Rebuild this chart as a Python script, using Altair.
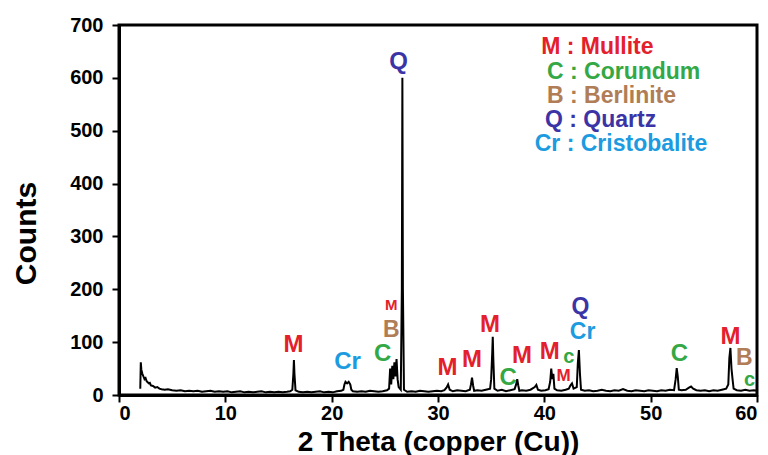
import altair as alt
import pandas as pd

# XRD pattern (2 theta, counts)
two_theta = [
    2.0, 2.05, 2.1, 2.2, 2.3, 2.4, 2.5, 2.6, 2.7, 2.8, 2.9, 3.0, 3.2, 3.4, 3.6, 3.8, 4.0, 4.3, 4.6, 5.0,
    5.4, 5.8, 6.2, 6.6, 7.0, 7.4, 7.8, 8.2, 8.6, 9.0, 9.4, 9.8, 10.2, 10.6, 11.0, 11.4, 11.8, 12.2,
    12.6, 13.0, 13.4, 13.8, 14.2, 14.6, 15.0, 15.4, 15.8, 16.1,
    16.3, 16.4, 16.45, 16.5, 16.6,
    16.9, 17.3, 17.7, 18.1, 18.5, 18.9, 19.3, 19.7, 20.1, 20.5, 20.9,
    21.1, 21.2, 21.3, 21.45, 21.6, 21.75, 21.85, 22.0,
    22.4, 22.8, 23.2, 23.6, 24.0, 24.4, 24.8, 25.2,
    25.4, 25.5, 25.6, 25.7, 25.8, 25.9, 26.0, 26.1, 26.2, 26.3,
    26.5, 26.6, 26.65, 26.7, 26.8,
    27.1, 27.5, 27.9, 28.3, 28.7, 29.1, 29.5, 29.9, 30.3, 30.6,
    30.8, 30.95, 31.1,
    31.4, 31.8, 32.2, 32.6, 33.0,
    33.1, 33.2, 33.3, 33.4,
    33.7, 34.1, 34.5, 34.9,
    35.0, 35.1, 35.15, 35.2, 35.3,
    35.6, 36.0, 36.4, 36.8, 37.2,
    37.35, 37.45, 37.55, 37.65,
    37.9, 38.3, 38.7,
    39.1, 39.25, 39.4,
    39.7, 40.1, 40.4,
    40.55, 40.65, 40.75, 40.85, 40.95,
    41.2, 41.6, 42.0, 42.3,
    42.45, 42.6, 42.75,
    43.05, 43.15, 43.25, 43.35, 43.45,
    43.8, 44.2, 44.6, 45.0, 45.4, 45.8, 46.2, 46.6, 47.0, 47.4, 47.8, 48.2, 48.6, 49.0, 49.4,
    49.8, 50.2, 50.6, 51.0, 51.4, 51.8, 52.2,
    52.35, 52.45, 52.55, 52.65,
    52.9, 53.3, 53.6, 53.8, 54.0, 54.3, 54.7, 55.1, 55.5, 55.9, 56.3, 56.7, 57.1,
    57.3, 57.4, 57.5, 57.6, 57.7, 57.8,
    58.1, 58.5, 58.9, 59.3, 59.7, 60.0,
]
counts = [
    12, 62, 48, 40, 35, 30, 32, 26, 24, 22, 23, 18, 17, 14, 15, 12, 11, 10, 11, 9,
    8, 9, 7, 8, 7, 8, 6, 7, 8, 6, 7, 6, 7, 5, 6, 7, 5, 6,
    5, 6, 7, 5, 6, 5, 6, 5, 6, 7,
    10, 40, 66, 40, 9,
    6, 5, 6, 5, 6, 7, 5, 6, 5, 7, 8,
    10, 20, 25, 22, 25, 20, 10, 7,
    6, 7, 6, 8, 7, 6, 7, 9,
    12, 50, 20, 55, 30, 62, 35, 68, 30, 15,
    10, 200, 600, 200, 10,
    6, 7, 6, 8, 7, 6, 7, 8, 7, 9,
    14, 20, 10,
    7, 9, 8, 7, 10,
    20, 33, 18, 8,
    9, 8, 10, 12,
    30, 80, 110, 70, 12,
    8, 10, 7, 9, 11,
    20, 30, 18, 8,
    9, 8, 10,
    15, 19, 10,
    8, 9, 11,
    25, 50, 30, 40, 12,
    9, 8, 10, 12,
    18, 22, 12,
    15, 60, 85, 40, 10,
    8, 9, 7, 8, 10, 8, 7, 9, 8, 11, 8, 7, 9, 8, 7,
    9, 8, 7, 9, 8, 10, 9,
    30, 51, 35, 10,
    9, 10, 14, 16, 12, 9, 8, 9, 7, 9, 8, 10, 12,
    20, 70, 89, 50, 30, 12,
    9, 8, 10, 8, 9, 8,
]

# peak annotations
RED, GREEN, BROWN, NAVY, SKY = "#e3202b", "#33a845", "#b07d56", "#3b34a6", "#1c9be0"
ann_text = ["M", "Cr", "C", "B", "M", "Q", "M", "M", "M", "C", "M", "M", "c", "M",
            "Q", "Cr", "C", "M", "B", "c"]
ann_x = [16.4, 21.5, 24.8, 25.6, 25.6, 26.3, 30.9, 33.2, 34.9, 36.6, 37.9, 40.5, 42.3, 41.8,
         43.4, 43.6, 52.7, 57.5, 58.8, 59.3]
ann_y = [95, 62, 78, 123, 170, 630, 51, 66, 132, 32, 74, 81, 72, 36,
         167, 119, 78, 110, 70, 28]
ann_color = [RED, SKY, GREEN, BROWN, RED, NAVY, RED, RED, RED, GREEN, RED, RED, GREEN, RED,
             NAVY, SKY, GREEN, RED, BROWN, GREEN]
ann_size = [24, 24, 24, 23, 15, 24, 24, 24, 24, 24, 24, 24, 20, 17,
            23, 23, 24, 24, 23, 20]

# phase key
key_text = ["M : Mullite", "C : Corundum", "B : Berlinite", "Q : Quartz", "Cr : Cristobalite"]
key_x = [39.7, 40.25, 40.25, 40.06, 39.1]
key_y = [658, 612, 566, 520, 474]
key_color = [RED, GREEN, BROWN, NAVY, SKY]

FONT = "Liberation Sans"

pattern = pd.DataFrame({"x": two_theta, "y": counts})
ann = pd.DataFrame({"t": ann_text, "x": ann_x, "y": ann_y, "c": ann_color, "s": ann_size})
key = pd.DataFrame({"t": key_text, "x": key_x, "y": key_y, "c": key_color})

xs = alt.Scale(domain=[0, 60], nice=False)
ys = alt.Scale(domain=[0, 700], nice=False)

line = alt.Chart(pattern).mark_line(color="black", strokeWidth=2, clip=True).encode(
    x=alt.X("x:Q", scale=xs, title="2 Theta (copper (Cu))",
            axis=alt.Axis(values=[0, 10, 20, 30, 40, 50, 60], format="d",
                          titleY=47, titleX=319, titleBaseline="middle")),
    y=alt.Y("y:Q", scale=ys, title="Counts",
            axis=alt.Axis(values=[0, 100, 200, 300, 400, 500, 600, 700], format="d",
                          titleX=-93, titleY=208, titleAngle=-90, titleBaseline="middle",
                          titleAlign="center")),
)

labels = alt.Chart(ann).mark_text(font=FONT, fontWeight="bold", align="center",
                                  baseline="middle").encode(
    x=alt.X("x:Q", scale=xs),
    y=alt.Y("y:Q", scale=ys),
    text="t:N",
    color=alt.Color("c:N", scale=None),
    size=alt.Size("s:Q", scale=None),
)

keys = alt.Chart(key).mark_text(font=FONT, fontWeight="bold", align="left",
                                baseline="middle", fontSize=23).encode(
    x=alt.X("x:Q", scale=xs),
    y=alt.Y("y:Q", scale=ys),
    text="t:N",
    color=alt.Color("c:N", scale=None),
)

chart = (line + labels + keys).properties(
    width=638, height=370,
    autosize=alt.AutoSizeParams(type="none"),
    padding={"left": 111, "top": 17, "right": 3, "bottom": 60},
).configure_view(
    stroke="black", strokeWidth=3,
).configure_axis(
    grid=False, domainColor="black", domainWidth=3, tickColor="black", tickWidth=2,
    tickSize=7, labelFont=FONT, labelFontWeight="bold", labelFontSize=20,
    labelColor="black", titleFont=FONT, titleFontWeight="bold", titleColor="black",
).configure_axisX(
    labelPadding=1, titleFontSize=28,
).configure_axisY(
    labelPadding=9, titleFontSize=30,
)

chart.save("out.html", embed_options={"renderer": "svg", "actions": False})
